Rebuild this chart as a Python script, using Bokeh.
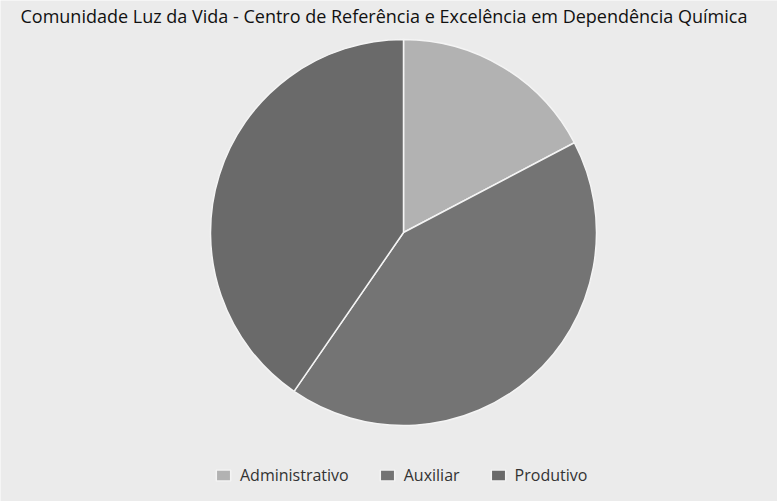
import numpy as np
from bokeh.plotting import figure
from bokeh.models import ColumnDataSource, Label
from bokeh.embed import file_html
from bokeh.resources import INLINE

title_text = "Comunidade Luz da Vida - Centro de Referência e Excelência em Dependência Química"
categories = ["Administrativo", "Auxiliar", "Produtivo"]
shares = [17.3, 42.3, 40.4]
colors = ["#b2b2b2", "#747474", "#6a6a6a"]

vals = np.array(shares, dtype=float)
frac = vals / vals.sum()
cum = np.concatenate([[0.0], np.cumsum(frac)])
start = np.pi / 2 - cum[:-1] * 2 * np.pi
end = np.pi / 2 - cum[1:] * 2 * np.pi

src = ColumnDataSource(dict(cat=categories, start=start, end=end, color=colors))

W, H = 777, 501
p = figure(width=W, height=H, x_range=(0, W), y_range=(0, H),
           output_backend="svg", toolbar_location=None, min_border=0)
p.axis.visible = False
p.grid.visible = False
p.outline_line_color = None
p.background_fill_color = "#ebebeb"
p.border_fill_color = "#ebebeb"

cx, cy, r = 403, H - 232, 193
p.wedge(x=cx, y=cy, radius=r, start_angle="start", end_angle="end", direction="clock",
        fill_color="color", line_color="#f4f4f4", line_width=1.5, source=src,
        legend_field="cat")

leg = p.legend[0]
leg.orientation = "horizontal"
leg.location = (214, 15)
leg.background_fill_alpha = 0
leg.border_line_color = None
leg.padding = 0
leg.margin = 0
leg.spacing = 29
leg.label_standoff = 8
leg.glyph_width = 18
leg.glyph_height = 14
leg.label_text_font = "Open Sans"
leg.label_text_font_size = "16px"
leg.label_text_color = "#333333"

p.add_layout(Label(x=20, y=H - 15, x_units="screen", y_units="screen", text=title_text,
                   text_font="Open Sans", text_font_size="18px", text_color="#111111",
                   text_baseline="alphabetic"))

open("out.html", "w").write(file_html(p, INLINE))
